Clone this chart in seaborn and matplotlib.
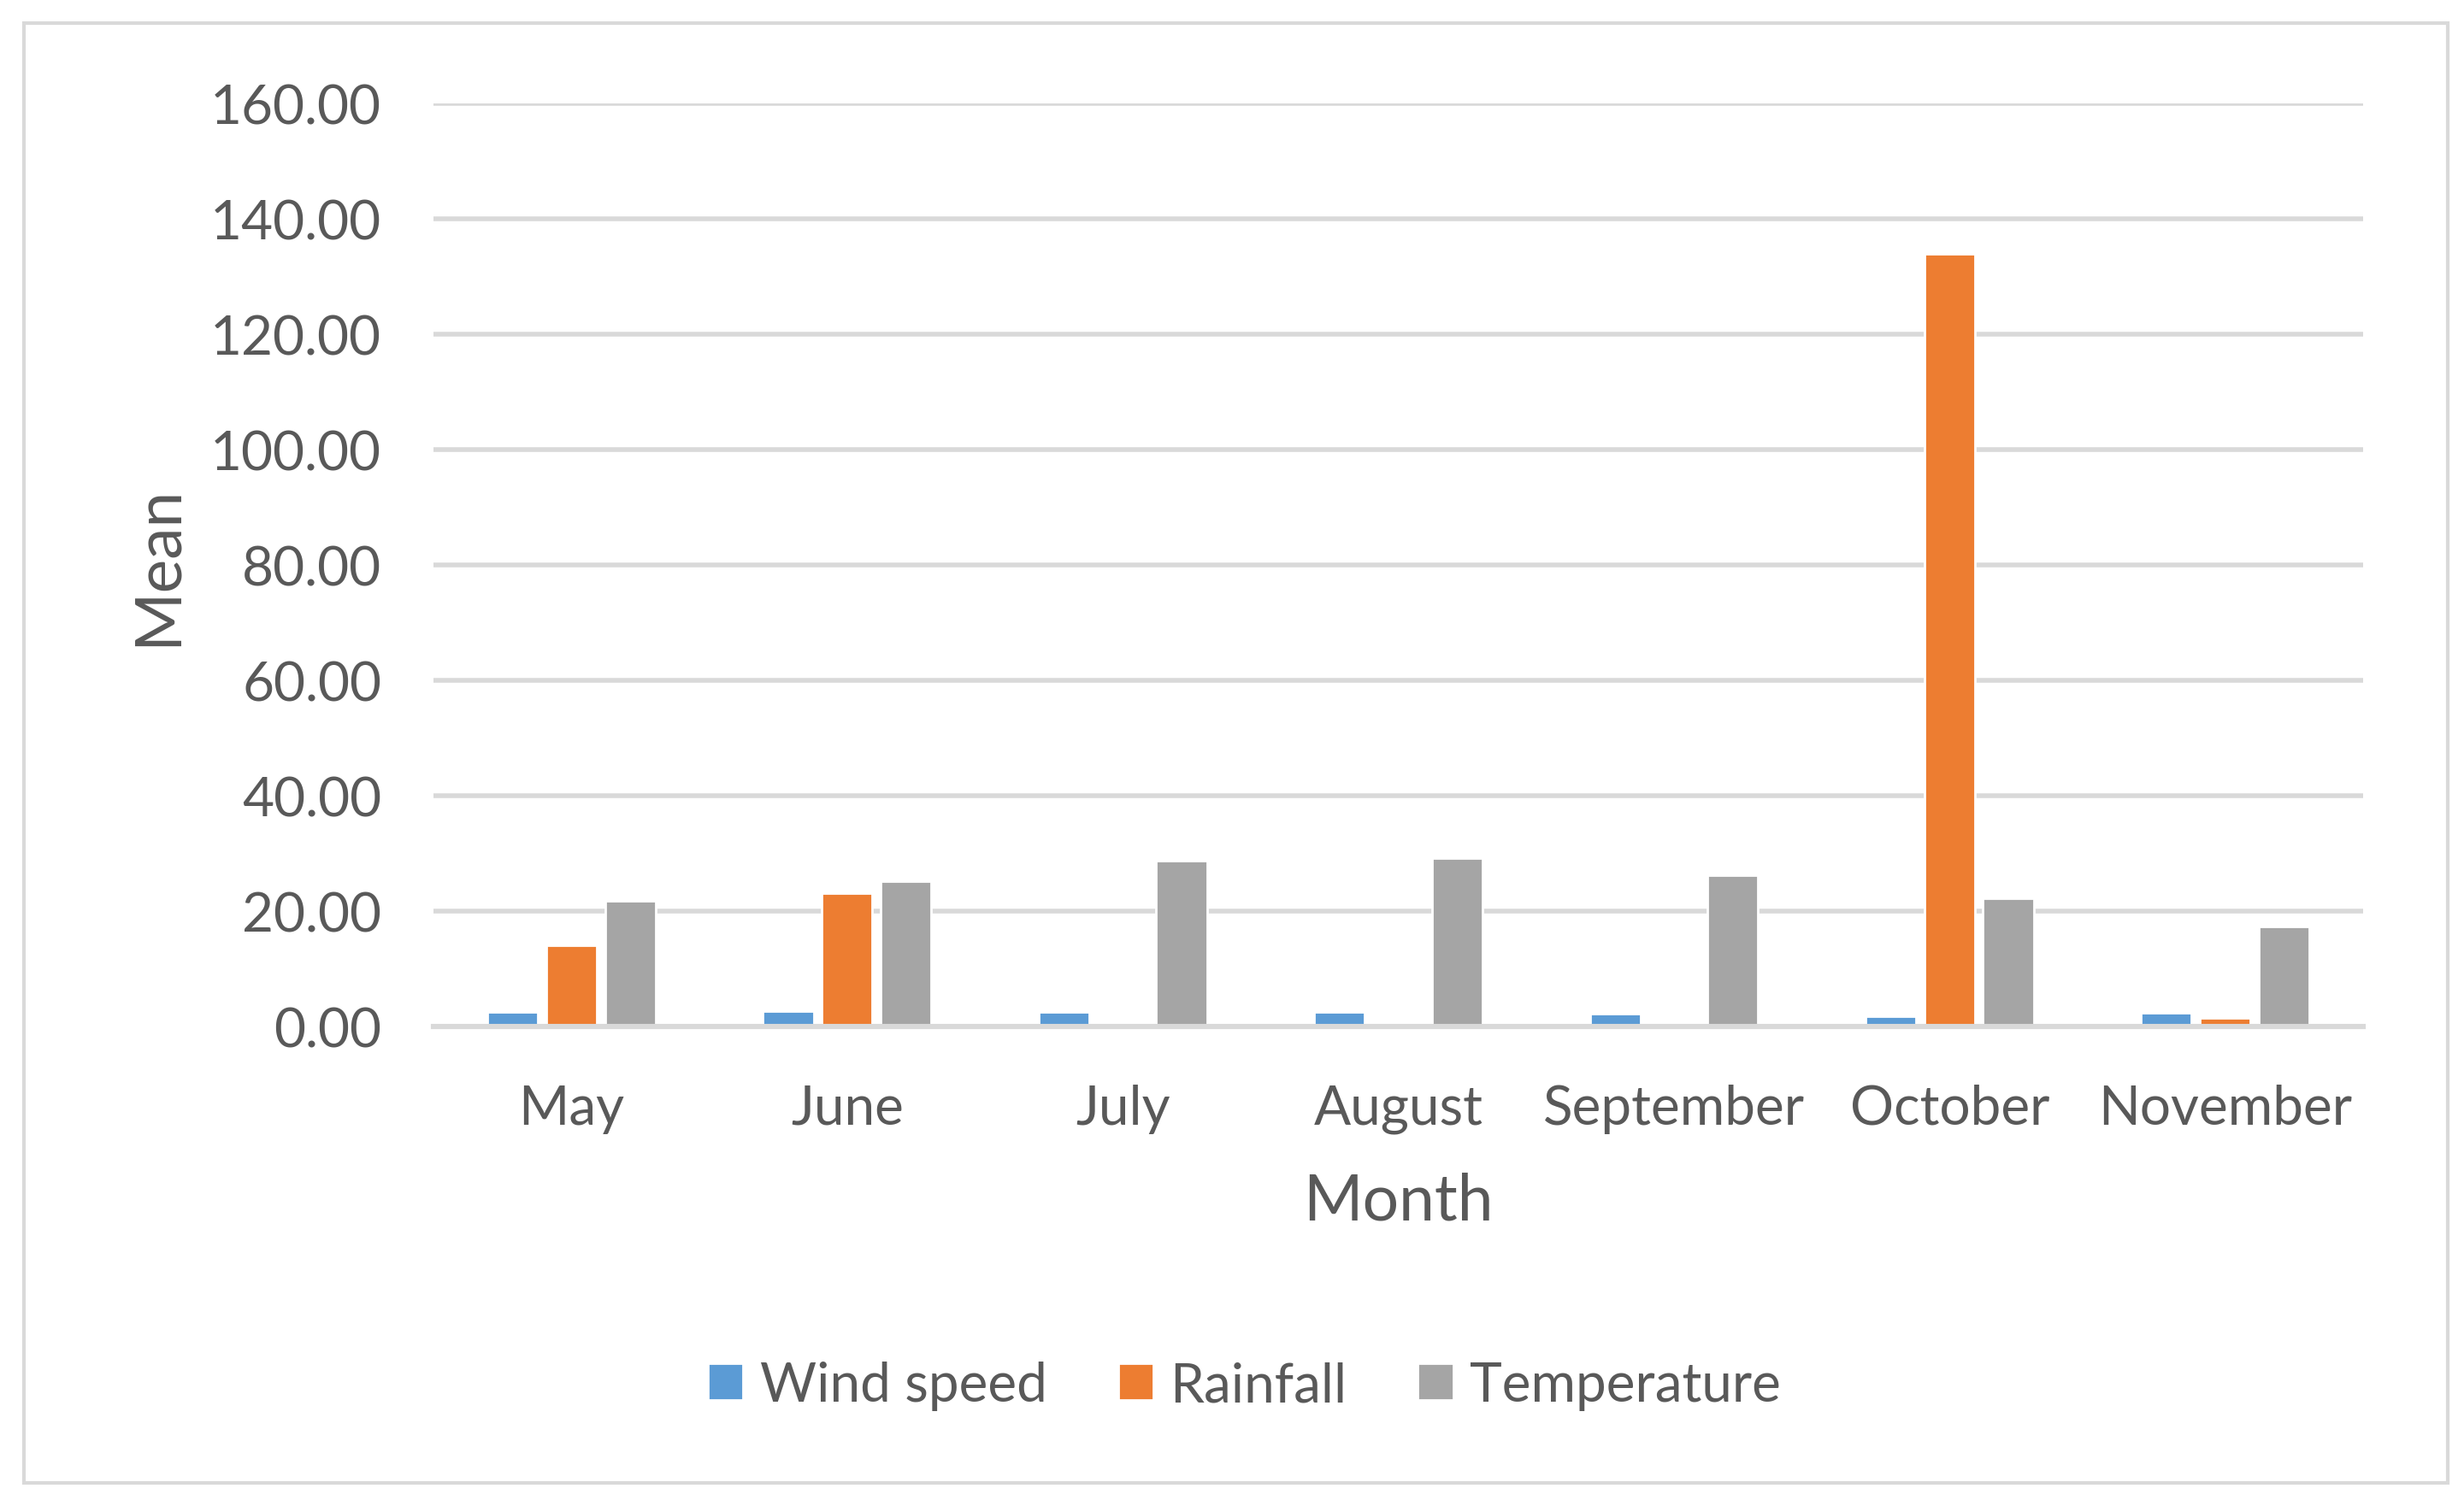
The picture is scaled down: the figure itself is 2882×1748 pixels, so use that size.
import pandas as pd
import matplotlib.pyplot as plt
import seaborn as sns
from matplotlib.patches import Rectangle
from matplotlib.ticker import FormatStrFormatter

# Data
months = ["May", "June", "July", "August", "September", "October", "November"]
wind_speed = [2.57, 2.72, 2.57, 2.57, 2.28, 1.83, 2.43]
rainfall = [14.0, 23.07, 0.0, 0.64, 0.0, 133.9, 1.53]
temperature = [21.7, 25.1, 28.7, 29.2, 26.2, 22.2, 17.3]

series_names = ["Wind speed", "Rainfall", "Temperature"]
colors = ["#5B9BD5", "#ED7D31", "#A5A5A5"]

df = pd.DataFrame({
    "Month": months * 3,
    "Mean": wind_speed + rainfall + temperature,
    "Series": [s for s in series_names for _ in months],
})

sns.set_style("white")
plt.rcParams["font.family"] = ["Lato", "DejaVu Sans"]

text_col = "#595959"
grid_col = "#D9D9D9"

fig = plt.figure(figsize=(14.41, 8.745), dpi=200)
ax = fig.add_axes([0.176, 0.3128, 0.783, 0.6175])

sns.barplot(data=df, x="Month", y="Mean", hue="Series", order=months,
            hue_order=series_names, palette=dict(zip(series_names, colors)),
            width=0.64, gap=0.14, saturation=1, ax=ax, legend=True)

ax.set_ylim(0, 160)
ax.set_xlim(-0.5, 6.5)
ax.set_yticks(range(0, 161, 20))
ax.yaxis.set_major_formatter(FormatStrFormatter("%.2f"))
ax.yaxis.grid(True, color=grid_col, linewidth=2)
ax.set_axisbelow(True)
for side in ["top", "right", "left"]:
    ax.spines[side].set_visible(False)
ax.spines["bottom"].set_color(grid_col)
ax.spines["bottom"].set_linewidth(2.2)
ax.tick_params(axis="both", length=0, labelsize=23, labelcolor=text_col)
ax.tick_params(axis="y", pad=22)
ax.tick_params(axis="x", pad=24)

ax.set_xlabel("Month", fontsize=27, color=text_col, labelpad=16)
ax.set_ylabel("Mean", fontsize=27, color=text_col, labelpad=10)

handles, labels = ax.get_legend_handles_labels()
ax.get_legend().remove()
fig.legend(handles, labels, loc="center", bbox_to_anchor=(0.505, 0.0726),
           ncol=3, frameon=False, fontsize=23, labelcolor=text_col,
           handlelength=0.65, handleheight=0.65, handletextpad=0.3,
           columnspacing=1.3)

# outer chart border
fig.patches.append(Rectangle((0.0097, 0.0075), 0.9838, 0.9765,
                             transform=fig.transFigure, fill=False,
                             edgecolor=grid_col, linewidth=1.5))

fig.savefig("out.png", dpi=200, facecolor="white")
